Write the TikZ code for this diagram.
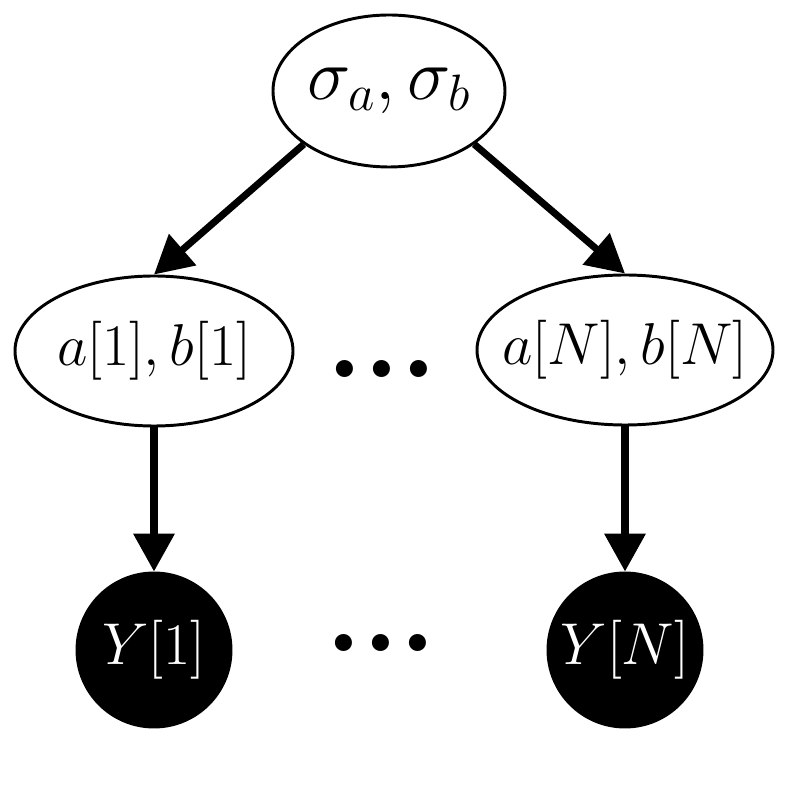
\RequirePackage{fix-cm}
\documentclass[tikz,border=0pt]{standalone}
\usetikzlibrary{arrows.meta,shapes.geometric}
\begin{document}
\begin{tikzpicture}[
    every node/.style={align=center},
    param node/.style={ellipse, draw, line width=2.1pt, inner ysep=0pt, inner xsep=-0.7cm},
    observed node/.style={circle, draw, fill=black, text=white, line width=2.1pt, minimum size=3.85cm, inner sep=0pt, font=\fontsize{42}{46}\selectfont},
    dots node/.style={inner sep=0pt, font=\fontsize{84}{84}\selectfont\bfseries},
    thick arrow/.style={draw, line width=5pt, -{Triangle[width=1cm,length=0.95cm]}},
    ]
\useasboundingbox (0,0) rectangle (19.675,19.825);
\node[param node, minimum width=5.8cm, minimum height=3.8cm, font=\fontsize{52}{56}\selectfont] (sigma) at (9.725,17.550) {$\sigma_a,\sigma_b$};
\node[param node, minimum width=6.95cm, minimum height=3.75cm, font=\fontsize{42}{46}\selectfont] (ab1) at (3.850,11.050) {$a[1],b[1]$};
\node[param node, minimum width=7.4cm, minimum height=3.75cm, font=\fontsize{42}{46}\selectfont] (abN) at (15.625,11.075) {$a[N],b[N]$};
\node[dots node] (dotsMid) at (9.550,10.600) {...};
\draw[thick arrow] (sigma.212) -- (ab1.north);
\draw[thick arrow] (sigma.-32) -- (abN.north);
\node[observed node] (Y1) at (3.850,3.575) {$Y[1]$};
\node[observed node] (YN) at (15.625,3.575) {$Y[N]$};
\node[dots node] (dotsBot) at (9.525,3.750) {...};
\draw[thick arrow] (ab1) -- (Y1);
\draw[thick arrow] (abN) -- (YN);
\end{tikzpicture}
\end{document}
